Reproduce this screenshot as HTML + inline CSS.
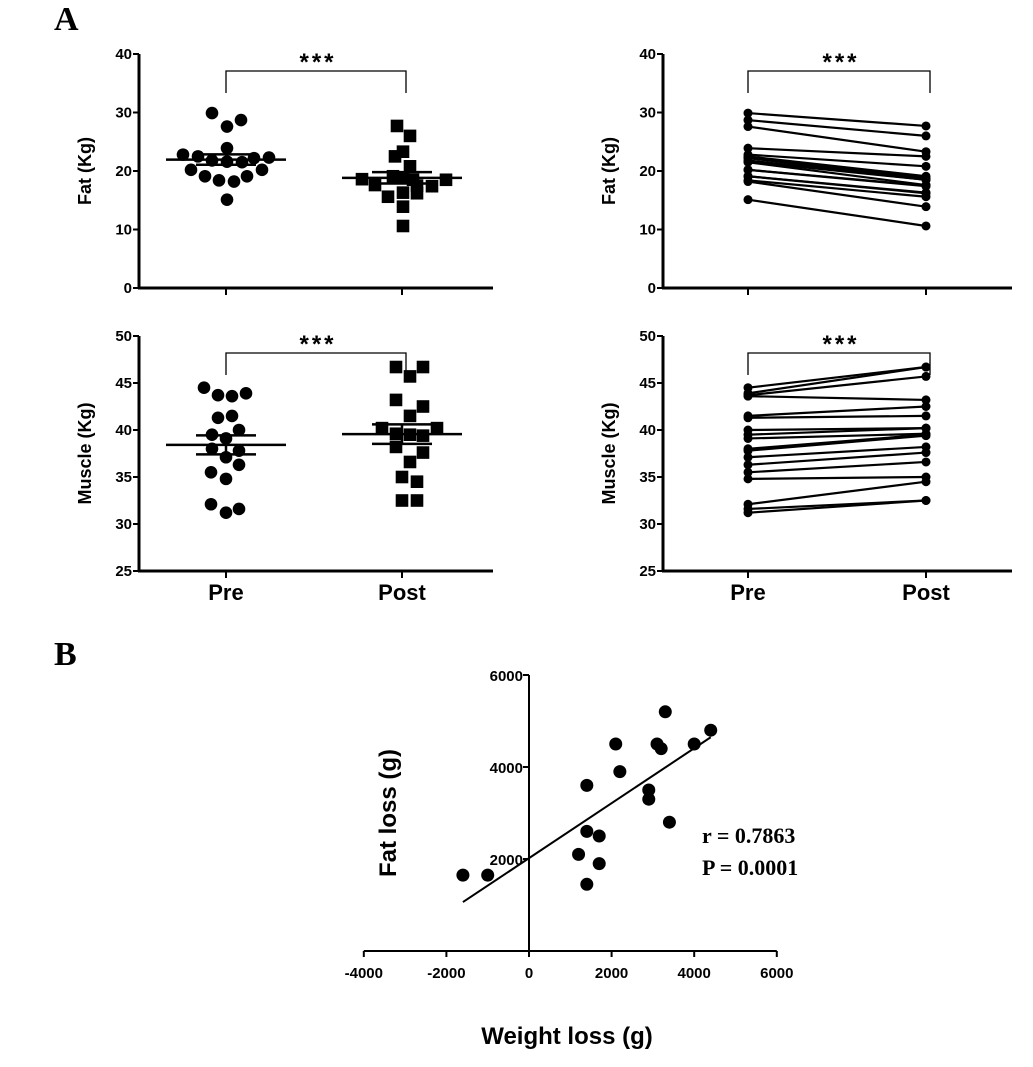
<!DOCTYPE html>
<html><head><meta charset="utf-8"><style>
body{margin:0;background:#fff}
svg text{font-family:"Liberation Sans",Arial,sans-serif;font-weight:bold;fill:#000}
</style></head><body>
<svg id="fig" width="1033" height="1062" viewBox="0 0 1033 1062" xmlns="http://www.w3.org/2000/svg">
<text x="54" y="30" style="font-family:'Liberation Serif',serif;font-size:34px">A</text>
<text x="54" y="665" style="font-family:'Liberation Serif',serif;font-size:34px">B</text>
</svg>
<script>
const fatPre=[29.9,27.6,28.7,23.9,22.8,22.5,22.2,21.8,21.6,21.5,22.3,20.2,20.2,19.1,19.1,18.4,18.2,15.1];
const fatPost=[27.7,26,23.3,22.5,20.8,19.1,18.8,18.6,18.5,17.6,17.5,17.4,16.3,16.2,15.6,13.9,10.6,18.5];
const musPre=[44.5,43.7,43.6,43.9,41.3,41.5,39.5,40,39.1,38,37.8,37.1,36.3,35.5,34.8,32.1,31.2,31.6];
const musPost=[46.7,46.7,45.7,43.2,42.5,41.5,40.2,40.2,39.6,39.5,39.4,38.2,37.6,36.6,35,34.5,32.5,32.5];
const groups=["Pre","Post"];
const fatTicks=[0,10,20,30,40];
const musTicks=[25,30,35,40,45,50];
const wLoss=[-1600,-1000,1400,1200,1400,1700,1700,1400,2100,2200,2900,2900,3300,3100,3200,3400,4000,4400];
const fLoss=[1650,1650,1450,2100,2600,2500,1900,3600,4500,3900,3500,3300,5200,4500,4400,2800,4500,4800];
const bxTicks=[-4000,-2000,0,2000,4000,6000];
const byTicks=[2000,4000,6000];
const jitFatPre=[-14,1,15,1,-43,-28,28,-14,1,16,43,-35,36,-21,21,-7,8,1];
const jitFatPost=[-5,8,1,-7,8,-9,1,-40,44,-27,15,30,1,15,-14,1,1,11];
const jitMusPre=[-22,-8,6,20,-8,6,-14,13,0,-14,13,0,13,-15,0,-15,0,13];
const jitMusPost=[-6,21,8,-6,21,8,-20,35,-6,8,21,-6,21,8,0,15,0,15];

const S=document.getElementById('fig'),NS="http://www.w3.org/2000/svg";
function mk(t,a,txt){const e=document.createElementNS(NS,t);for(const k in a)e.setAttribute(k,a[k]);if(txt!==undefined)e.textContent=txt;S.appendChild(e);return e;}
const mean=a=>a.reduce((s,v)=>s+v,0)/a.length;
const sem=a=>{const m=mean(a);return Math.sqrt(a.reduce((s,v)=>s+(v-m)*(v-m),0)/(a.length-1))/Math.sqrt(a.length);};

function panel(o){
 const Y=v=>o.y0-(v-o.vmin)/(o.vmax-o.vmin)*(o.y0-o.y1);
 const xs=[o.xPre,o.xPost];
 let e=mk('line',{x1:o.ax,y1:o.y1,x2:o.ax,y2:o.y0,stroke:'#000','stroke-width':3});
 
 e=mk('line',{x1:o.ax-1,y1:o.y0,x2:o.xr,y2:o.y0,stroke:'#000','stroke-width':3});
 
 o.ticks.forEach(t=>{
  e=mk('line',{x1:o.ax-6,y1:Y(t),x2:o.ax,y2:Y(t),stroke:'#000','stroke-width':2});
  
  e=mk('text',{x:o.ax-7,y:Y(t)+5,'text-anchor':'end','font-size':15},t);
  
 });
 xs.forEach((x,i)=>{
  e=mk('line',{x1:x,y1:o.y0,x2:x,y2:o.y0+7,stroke:'#000','stroke-width':2});
  
  if(o.labels){e=mk('text',{x:x,y:o.y0+29,'text-anchor':'middle','font-size':22},groups[i]);
  }
 });
 const cy=(o.y0+o.y1)/2;
 e=mk('text',{x:0,y:0,'text-anchor':'middle','font-size':18,transform:`translate(${o.ax-48},${cy}) rotate(-90)`},o.ylabel);
 
 const by=o.y1+17;
 e=mk('path',{d:`M${o.xPre},${by+22}V${by}H${o.xPost+4}V${by+22}`,fill:'none',stroke:'#000','stroke-width':1.3});
 
 e=mk('text',{x:(o.xPre+o.xPost)/2+4,y:by-1,'text-anchor':'middle','font-size':24,'letter-spacing':'3px'},'***');
 
 if(o.paired){
  const a=[...o.pre].sort((p,q)=>q-p),b=[...o.post].sort((p,q)=>q-p);
  a.forEach((v,i)=>{
   e=mk('line',{x1:o.xPre,y1:Y(v),x2:o.xPost,y2:Y(b[i]),stroke:'#000','stroke-width':2.2});
   
   e=mk('circle',{cx:o.xPre,cy:Y(v),r:4.5,fill:'#000'});
   
   e=mk('circle',{cx:o.xPost,cy:Y(b[i]),r:4.5,fill:'#000'});
   
  });
 } else {
  o.pre.forEach((v,i)=>{e=mk('circle',{cx:o.xPre+o.jPre[i],cy:Y(v),r:6.3,fill:'#000'});
   });
  o.post.forEach((v,i)=>{e=mk('rect',{x:o.xPost+o.jPost[i]-6.3,y:Y(v)-6.3,width:12.6,height:12.6,fill:'#000'});
   });
  [o.pre,o.post].forEach((arr,i)=>{
   const m=mean(arr),s=sem(arr),x=xs[i];
   e=mk('line',{x1:x-60,y1:Y(m),x2:x+60,y2:Y(m),stroke:'#000','stroke-width':2.5});
   
   [m+s,m-s].forEach(v=>{e=mk('line',{x1:x-30,y1:Y(v),x2:x+30,y2:Y(v),stroke:'#000','stroke-width':2.5});
    });
   e=mk('line',{x1:x,y1:Y(m+s),x2:x,y2:Y(m-s),stroke:'#000','stroke-width':2.5});
   
  });
 }
}
panel({name:'fat-scatter',ax:139,xr:493,xPre:226,xPost:402,y0:288,y1:54,vmin:0,vmax:40,ticks:fatTicks,pre:fatPre,post:fatPost,jPre:jitFatPre,jPost:jitFatPost,ylabel:'Fat (Kg)'});
panel({name:'muscle-scatter',ax:139,xr:493,xPre:226,xPost:402,y0:571,y1:336,vmin:25,vmax:50,ticks:musTicks,pre:musPre,post:musPost,jPre:jitMusPre,jPost:jitMusPost,ylabel:'Muscle (Kg)',labels:true});
panel({name:'fat-paired',ax:663,xr:1012,xPre:748,xPost:926,y0:288,y1:54,vmin:0,vmax:40,ticks:fatTicks,pre:fatPre,post:fatPost,ylabel:'Fat (Kg)',paired:true});
panel({name:'muscle-paired',ax:663,xr:1012,xPre:748,xPost:926,y0:571,y1:336,vmin:25,vmax:50,ticks:musTicks,pre:musPre,post:musPost,ylabel:'Muscle (Kg)',paired:true,labels:true});

// Panel B
const bx=v=>529+v*(777-364)/10000;
const by=v=>951-v*(951-675)/6000;
let e=mk('line',{x1:bx(0),y1:by(6000),x2:bx(0),y2:by(0),stroke:'#000','stroke-width':2});

e=mk('line',{x1:bx(-4000),y1:by(0),x2:bx(6000),y2:by(0),stroke:'#000','stroke-width':2});

bxTicks.forEach(t=>{
 e=mk('line',{x1:bx(t),y1:by(0),x2:bx(t),y2:by(0)+6,stroke:'#000','stroke-width':2});
 
 e=mk('text',{x:bx(t),y:by(0)+27,'text-anchor':'middle','font-size':15},t);
 
});
byTicks.forEach(t=>{
 e=mk('line',{x1:bx(0)-6,y1:by(t),x2:bx(0),y2:by(t),stroke:'#000','stroke-width':2});
 
 e=mk('text',{x:bx(0)-6,y:by(t)+6,'text-anchor':'end','font-size':15},t);
 
});
const mx=mean(wLoss),my=mean(fLoss);
let sxy=0,sxx=0;wLoss.forEach((x,i)=>{sxy+=(x-mx)*(fLoss[i]-my);sxx+=(x-mx)*(x-mx);});
const sl=sxy/sxx,ic=my-sl*mx,xmin=Math.min(...wLoss),xmax=Math.max(...wLoss);
e=mk('line',{x1:bx(xmin),y1:by(ic+sl*xmin),x2:bx(xmax),y2:by(ic+sl*xmax),stroke:'#000','stroke-width':2});

wLoss.forEach((x,i)=>{e=mk('circle',{cx:bx(x),cy:by(fLoss[i]),r:6.5,fill:'#000'});
 });
e=mk('text',{x:0,y:0,'text-anchor':'middle','font-size':24,transform:'translate(396,813) rotate(-90)'},'Fat loss (g)');

e=mk('text',{x:567,y:1044,'text-anchor':'middle','font-size':24},'Weight loss (g)');

e=mk('text',{x:702,y:843,'font-size':22,style:"font-family:'Liberation Serif',serif"},'r = 0.7863');

e=mk('text',{x:702,y:875,'font-size':22,style:"font-family:'Liberation Serif',serif"},'P = 0.0001');

</script>
</body></html>
